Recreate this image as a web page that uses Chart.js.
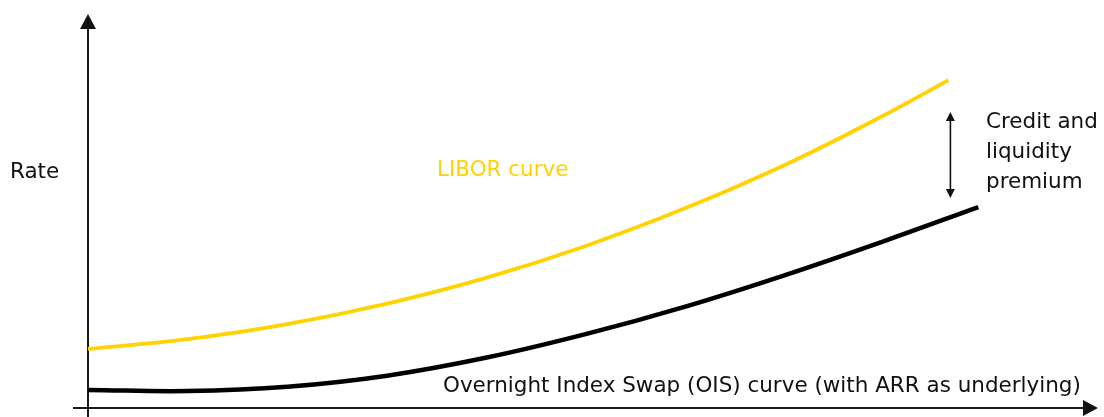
<!DOCTYPE html>
<html><head><meta charset="utf-8">
<script src="https://cdn.jsdelivr.net/npm/chart.js@4.4.1/dist/chart.umd.min.js"></script>
<style>html,body{margin:0;padding:0;background:#fff;}#c{display:block;}</style>
</head><body>
<canvas id="c" width="1104" height="417"></canvas>
<script>
// Maturity (arbitrary units) and rate (arbitrary units)
const liborX = [0, 1, 2, 3, 4, 5, 6, 7, 8, 8.63];
const liborY = [1.50, 1.75, 2.13, 2.65, 3.31, 4.12, 5.08, 6.18, 7.45, 8.32];
const oisX = [0, 1, 2, 3, 4, 5, 6, 7, 8, 8.93];
const oisY = [0.46, 0.43, 0.54, 0.82, 1.28, 1.88, 2.58, 3.38, 4.25, 5.10];
const labels = {
  yAxis: 'Rate',
  libor: 'LIBOR curve',
  ois: 'Overnight Index Swap (OIS) curve (with ARR as underlying)',
  spread: ['Credit and', 'liquidity', 'premium']
};

const FAMILY = '"DejaVu Sans", sans-serif';
const YELLOW = '#FFD200';

function fitFont(ctx, text, width) {
  ctx.font = '20px ' + FAMILY;
  const w = ctx.measureText(text).width;
  return (20 * width / w).toFixed(2) + 'px ' + FAMILY;
}

function arrowHead(ctx, x, y, dir, len, half) {
  ctx.beginPath();
  if (dir === 'up') { ctx.moveTo(x, y); ctx.lineTo(x - half, y + len); ctx.lineTo(x + half, y + len); }
  else if (dir === 'down') { ctx.moveTo(x, y); ctx.lineTo(x - half, y - len); ctx.lineTo(x + half, y - len); }
  else if (dir === 'right') { ctx.moveTo(x, y); ctx.lineTo(x - len, y - half); ctx.lineTo(x - len, y + half); }
  ctx.closePath(); ctx.fill();
}

const decor = {
  id: 'decor',
  beforeDatasetsDraw(chart) {
    const ctx = chart.ctx, xs = chart.scales.x, ys = chart.scales.y;
    const x0 = xs.getPixelForValue(0), y0 = ys.getPixelForValue(0);
    const xEnd = xs.getPixelForValue(xs.max), yTop = ys.getPixelForValue(ys.max);
    ctx.save();
    ctx.strokeStyle = '#1a1a1a'; ctx.fillStyle = '#111'; ctx.lineWidth = 2;
    ctx.beginPath(); ctx.moveTo(x0, chart.height); ctx.lineTo(x0, yTop + 12); ctx.stroke();
    arrowHead(ctx, x0, yTop, 'up', 15, 8);
    ctx.beginPath(); ctx.moveTo(x0 - 15, y0); ctx.lineTo(xEnd, y0); ctx.stroke();
    arrowHead(ctx, xEnd + 13, y0, 'right', 15, 8);
    ctx.restore();
  },
  afterDatasetsDraw(chart) {
    const ctx = chart.ctx, xs = chart.scales.x, ys = chart.scales.y;
    ctx.save();
    const font = fitFont(ctx, labels.ois, 638);
    ctx.font = font; ctx.textBaseline = 'middle'; ctx.textAlign = 'left';
    ctx.fillStyle = '#111';
    ctx.fillText(labels.yAxis, 10, 172);
    ctx.fillStyle = YELLOW;
    ctx.fillText(labels.libor, 437, 170);
    ctx.fillStyle = '#111';
    ctx.fillText(labels.ois, 443, 386);
    labels.spread.forEach((t, i) => ctx.fillText(t, 986, 122 + i * 30));
    const ax = xs.getPixelForValue(8.65);
    const yA = ys.getPixelForValue(7.51), yB = ys.getPixelForValue(5.33);
    ctx.strokeStyle = '#111'; ctx.fillStyle = '#111'; ctx.lineWidth = 1.6;
    ctx.beginPath(); ctx.moveTo(ax, yA + 6); ctx.lineTo(ax, yB - 6); ctx.stroke();
    arrowHead(ctx, ax, yA, 'up', 9, 4.5);
    arrowHead(ctx, ax, yB, 'down', 9, 4.5);
    ctx.restore();
  }
};

new Chart(document.getElementById('c'), {
  type: 'line',
  data: {
    datasets: [
      { label: 'LIBOR', data: liborX.map((x, i) => ({ x, y: liborY[i] })), borderColor: YELLOW, borderWidth: 3.8, tension: 0.4, pointRadius: 0, fill: false, clip: false },
      { label: 'OIS', data: oisX.map((x, i) => ({ x, y: oisY[i] })), borderColor: '#000', borderWidth: 4.5, tension: 0.4, pointRadius: 0, fill: false, clip: false }
    ]
  },
  options: {
    responsive: false, animation: false, devicePixelRatio: 1,
    layout: { padding: { left: 88, right: 19, top: 14, bottom: 9 } },
    scales: {
      x: { type: 'linear', min: 0, max: 10, display: false },
      y: { type: 'linear', min: 0, max: 10, display: false }
    },
    plugins: { legend: { display: false }, tooltip: { enabled: false } }
  },
  plugins: [decor]
});
</script>
</body></html>
